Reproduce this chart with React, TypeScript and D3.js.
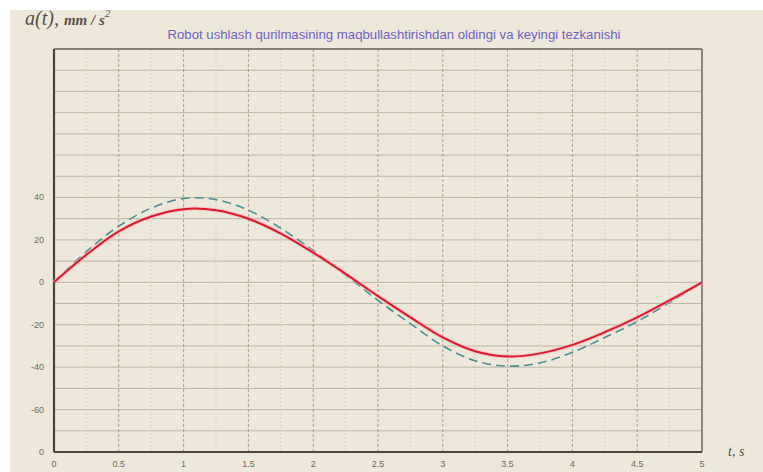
import React from 'react';
import * as d3 from 'd3';

// time points, s
const tValues = [0, 0.25, 0.5, 0.75, 1, 1.25, 1.5, 1.75, 2, 2.25, 2.5, 2.75, 3, 3.25, 3.5, 3.75, 4, 4.25, 4.5, 4.75, 5];
// after optimisation (red, solid)
const afterValues = [0, 13, 24, 31, 34.5, 34, 30, 23, 14, 4, -6.5, -16.5, -26, -32.5, -35, -33.5, -29.5, -23.5, -16.5, -8.5, 0];
// before optimisation (teal, dashed)
const beforeValues = [0, 14.5, 26.5, 35, 39.5, 39, 34, 25.5, 15, 3.5, -8.5, -19.5, -30, -37, -39.5, -38, -33, -26, -18.5, -9.5, 0];

const xTickValues = [0, 0.5, 1, 1.5, 2, 2.5, 3, 3.5, 4, 4.5, 5];
const xTickLabels = ['0', '0.5', '1', '1.5', '2', '2.5', '3', '3.5', '4', '4.5', '5'];
const yTickValues = [40, 20, 0, -20, -40, -60, -80];
const yTickLabels = ['40', '20', '0', '-20', '-40', '-60', '0'];
const yGridValues = d3.range(-70, 111, 10);

const title = 'Robot ushlash qurilmasining maqbullashtirishdan oldingi va keyingi tezkanishi';

const W = 763;
const H = 472;
const margin = { top: 49, right: 61, bottom: 20, left: 54 };

export default function App() {
  const x = d3.scaleLinear().domain([0, 5]).range([margin.left, W - margin.right]);
  const y = d3.scaleLinear().domain([-80, 110]).range([H - margin.bottom, margin.top]);

  const line = d3.line<number>()
    .x((_, i) => x(tValues[i]))
    .y(d => y(d))
    .curve(d3.curveCatmullRom);

  const minorX = d3.range(0.25, 5, 0.5);

  return (
    <svg width={W} height={H} style={{ display: 'block', position: 'absolute', left: 0, top: 0 }}>
      <rect x={0} y={0} width={W} height={H} fill="#ffffff" />
      <rect x={10} y={10} width={W - 10} height={H - 10} fill="#eee8da" />

      {/* horizontal grid */}
      {yGridValues.map(v => (
        <line key={'hy' + v} x1={x(0)} x2={x(5)} y1={y(v)} y2={y(v)} stroke="#bdb6a6" strokeWidth={1} />
      ))}
      {/* minor vertical grid */}
      {minorX.map(v => (
        <line key={'mx' + v} x1={x(v)} x2={x(v)} y1={y(110)} y2={y(-80)} stroke="#d6cfbf" strokeWidth={1} strokeDasharray="2,2" />
      ))}
      {/* major vertical grid */}
      {xTickValues.slice(1, -1).map(v => (
        <line key={'vx' + v} x1={x(v)} x2={x(v)} y1={y(110)} y2={y(-80)} stroke="#a9a292" strokeWidth={1} strokeDasharray="3,2" />
      ))}

      {/* frame */}
      <line x1={x(0)} x2={x(5)} y1={y(110)} y2={y(110)} stroke="#6e6a60" strokeWidth={1.5} />
      <line x1={x(5)} x2={x(5)} y1={y(110)} y2={y(-80)} stroke="#6e6a60" strokeWidth={1.5} />
      <line x1={x(0)} x2={x(0)} y1={y(110)} y2={y(-80)} stroke="#4a463e" strokeWidth={2.2} />
      <line x1={x(0)} x2={x(5)} y1={y(-80)} y2={y(-80)} stroke="#4a463e" strokeWidth={2.2} />

      {/* series */}
      <path d={line(beforeValues) || ''} fill="none" stroke="#4f8f93" strokeWidth={1.6} strokeDasharray="9,5" />
      <path d={line(afterValues) || ''} fill="none" stroke="#f2b4b8" strokeWidth={4} opacity={0.6} />
      <path d={line(afterValues) || ''} fill="none" stroke="#e0182e" strokeWidth={2} />

      {/* y tick labels */}
      {yTickValues.map((v, i) => (
        <text key={'yl' + v} x={x(0) - 10} y={y(v) + 3} textAnchor="end" fontSize={9}
          fontFamily="Liberation Sans, Arial, sans-serif" fill="#6e6a60">{yTickLabels[i]}</text>
      ))}
      {/* x tick labels */}
      {xTickValues.map((v, i) => (
        <text key={'xl' + v} x={x(v)} y={H - 5} textAnchor="middle" fontSize={9}
          fontFamily="Liberation Sans, Arial, sans-serif" fill="#6e6a60">{xTickLabels[i]}</text>
      ))}

      {/* titles */}
      <text x={25} y={25} fontFamily="Liberation Serif, Times New Roman, serif" fontStyle="italic" fill="#55514a" fontSize={20}>
        a(t), <tspan fontSize={15} fontWeight="bold">mm / s</tspan><tspan fontSize={11} dy={-8}>2</tspan>
      </text>
      <text x={(160 + 628) / 2} y={39} textAnchor="middle" fontSize={13.2}
        fontFamily="Liberation Sans, Arial, sans-serif" fill="#6f62c4">{title}</text>
      <text x={728} y={456} fontFamily="Liberation Serif, Times New Roman, serif" fontStyle="italic"
        fill="#55514a" fontSize={14}>t, s</text>
    </svg>
  );
}
